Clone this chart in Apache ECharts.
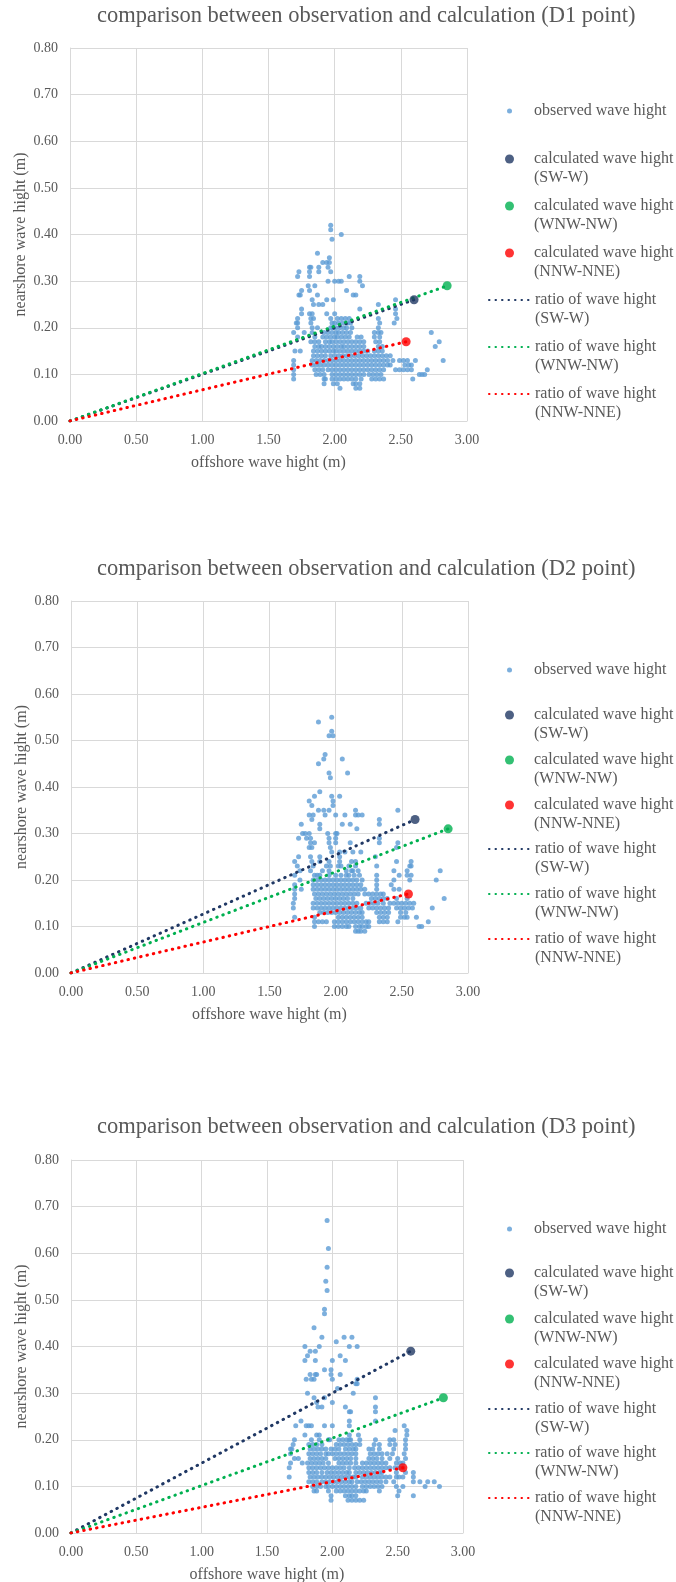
<!DOCTYPE html>
<html>
<head>
<meta charset="utf-8">
<script src="https://cdn.jsdelivr.net/npm/echarts@6/dist/echarts.min.js"></script>
<style>
  html, body { margin: 0; padding: 0; background: #ffffff; }
  #chart { width: 676px; height: 1582px; }
</style>
</head>
<body>
<div id="chart"></div>
<script>
// ---------------- data ----------------
const stations = ['D1', 'D2', 'D3'];

// calculated wave heights [offshore, nearshore] per station (D1, D2, D3)
const calcSW  = [[2.60, 0.26], [2.60, 0.33], [2.60, 0.39]];
const calcWNW = [[2.85, 0.29], [2.85, 0.31], [2.85, 0.29]];
const calcNNW = [[2.54, 0.17], [2.55, 0.17], [2.54, 0.14]];

// observed wave heights, one row per nearshore value: [nearshore, [offshore values]]
const obsD1 = [
  [0.42, [1.97]], [0.41, [1.97]], [0.40, [2.05]], [0.39, [1.98]],
  [0.36, [1.87]], [0.35, [1.96]], [0.34, [1.91, 1.94, 1.96]],
  [0.33, [1.81, 1.82, 1.88, 1.95]], [0.32, [1.73, 1.81, 1.88, 1.97]],
  [0.31, [1.72, 1.81, 2.11, 2.19]], [0.30, [1.95, 2.00, 2.03, 2.05, 2.19]],
  [0.29, [1.80, 1.85, 2.21]], [0.28, [1.75, 1.81, 2.09]],
  [0.27, [1.73, 1.74, 1.87, 2.14, 2.16]], [0.26, [1.83, 1.94, 1.99, 2.46]],
  [0.25, [1.84, 1.88, 1.91, 2.33]], [0.24, [1.75, 2.19, 2.46]],
  [0.23, [1.75, 1.81, 1.83, 1.94, 2.00, 2.46]],
  [0.22, [1.72, 1.82, 1.84, 1.97, 2.02, 2.05, 2.08, 2.11, 2.33, 2.47]],
  [0.21, [1.71, 1.72, 1.82, 1.98, 2.00, 2.03, 2.06, 2.10, 2.12, 2.34, 2.45]],
  [0.20, [1.72, 1.83, 1.87, 1.97, 1.99, 2.01, 2.04, 2.07, 2.09, 2.13, 2.33]],
  [0.19, [1.69, 1.77, 1.83, 1.92, 1.95, 1.98, 2.01, 2.03, 2.06, 2.09, 2.12, 2.30, 2.33, 2.35, 2.73]],
  [0.18, [1.72, 1.85, 1.91, 1.94, 1.97, 2.00, 2.02, 2.05, 2.08, 2.11, 2.17, 2.20, 2.30, 2.34]],
  [0.17, [1.82, 1.85, 1.88, 1.93, 1.96, 1.98, 2.01, 2.04, 2.07, 2.10, 2.13, 2.16, 2.19, 2.22, 2.31, 2.34, 2.79]],
  [0.16, [1.85, 1.88, 1.90, 1.93, 1.96, 1.99, 2.02, 2.05, 2.07, 2.10, 2.13, 2.16, 2.19, 2.22, 2.33, 2.36, 2.76]],
  [0.15, [1.70, 1.74, 1.84, 1.87, 1.90, 1.93, 1.96, 1.99, 2.01, 2.04, 2.07, 2.10, 2.13, 2.16, 2.19, 2.22, 2.25, 2.30, 2.33, 2.36]],
  [0.14, [1.84, 1.87, 1.90, 1.93, 1.97, 2.00, 2.03, 2.06, 2.09, 2.12, 2.15, 2.18, 2.21, 2.24, 2.27, 2.30, 2.33, 2.36, 2.39, 2.42]],
  [0.13, [1.69, 1.83, 1.86, 1.89, 1.92, 1.95, 1.98, 2.01, 2.04, 2.07, 2.10, 2.13, 2.16, 2.19, 2.22, 2.25, 2.28, 2.31, 2.34, 2.37, 2.40, 2.44, 2.49, 2.52, 2.55, 2.61, 2.82]],
  [0.12, [1.69, 1.83, 1.86, 1.89, 1.92, 1.95, 1.98, 2.01, 2.04, 2.07, 2.10, 2.13, 2.16, 2.19, 2.22, 2.25, 2.28, 2.31, 2.34, 2.37, 2.40, 2.42, 2.53, 2.56, 2.58]],
  [0.11, [1.69, 1.85, 1.88, 1.91, 1.95, 1.98, 2.01, 2.04, 2.07, 2.10, 2.13, 2.16, 2.19, 2.22, 2.25, 2.28, 2.31, 2.34, 2.37, 2.46, 2.49, 2.52, 2.55, 2.58, 2.70]],
  [0.10, [1.69, 1.86, 1.89, 1.92, 1.98, 2.01, 2.04, 2.07, 2.10, 2.13, 2.16, 2.19, 2.22, 2.26, 2.29, 2.32, 2.35, 2.64, 2.66, 2.68]],
  [0.09, [1.69, 1.92, 1.93, 1.98, 2.01, 2.04, 2.07, 2.10, 2.13, 2.16, 2.20, 2.28, 2.31, 2.34, 2.37, 2.59]],
  [0.08, [1.92, 1.99, 2.02, 2.14, 2.16, 2.19]],
  [0.07, [2.04, 2.16, 2.19]]
];

const obsD2 = [
  [0.55, [1.97]], [0.54, [1.87]], [0.52, [1.97]], [0.51, [1.95, 1.98]],
  [0.47, [1.92]], [0.46, [1.91, 2.05]], [0.45, [1.87]], [0.43, [1.95, 2.09]],
  [0.42, [1.96]], [0.39, [1.88]], [0.38, [1.84, 1.97, 2.03]],
  [0.37, [1.80, 1.98]], [0.36, [1.82, 1.98]],
  [0.35, [1.87, 1.91, 1.95, 2.15, 2.47]],
  [0.34, [1.80, 1.83, 1.92, 2.00, 2.07, 2.15, 2.17, 2.20]],
  [0.33, [1.82, 2.33]], [0.32, [1.74, 1.88, 2.05, 2.11, 2.33]],
  [0.31, [1.88, 2.16]], [0.30, [1.75, 1.77, 1.80, 1.94, 2.00, 2.01]],
  [0.29, [1.72, 1.78, 1.81, 1.95, 2.00, 2.33]],
  [0.28, [1.81, 1.84, 1.95, 2.00, 2.11, 2.33, 2.47]],
  [0.27, [1.80, 1.82, 1.96, 2.46]], [0.26, [1.97, 2.03, 2.07, 2.13, 2.19]],
  [0.25, [1.72, 1.81, 1.88, 2.03, 2.30]],
  [0.24, [1.69, 1.82, 1.88, 1.95, 2.03, 2.12, 2.15, 2.46, 2.57]],
  [0.23, [1.71, 1.83, 1.93, 1.96, 2.02, 2.04, 2.10, 2.15, 2.31, 2.56, 2.57]],
  [0.22, [1.73, 1.81, 1.90, 1.95, 2.08, 2.12, 2.13, 2.17, 2.44, 2.54, 2.79]],
  [0.21, [1.69, 1.84, 1.86, 1.88, 1.95, 2.00, 2.04, 2.08, 2.10, 2.14, 2.18, 2.31, 2.48, 2.54, 2.57]],
  [0.20, [1.73, 1.83, 1.86, 1.89, 1.92, 1.95, 1.98, 2.01, 2.04, 2.07, 2.10, 2.13, 2.16, 2.20, 2.31, 2.44, 2.56, 2.76]],
  [0.19, [1.69, 1.83, 1.86, 1.89, 1.92, 1.95, 1.98, 2.01, 2.04, 2.07, 2.10, 2.13, 2.16, 2.19, 2.31, 2.42]],
  [0.18, [1.69, 1.74, 1.83, 1.86, 1.89, 1.92, 1.95, 1.98, 2.01, 2.04, 2.07, 2.10, 2.13, 2.16, 2.19, 2.22, 2.31, 2.44, 2.48]],
  [0.17, [1.69, 1.84, 1.87, 1.90, 1.93, 1.96, 1.99, 2.02, 2.05, 2.08, 2.11, 2.14, 2.17, 2.22, 2.25, 2.28, 2.31, 2.34, 2.36]],
  [0.16, [1.69, 1.85, 1.88, 1.91, 1.94, 1.97, 2.00, 2.03, 2.06, 2.09, 2.13, 2.27, 2.30, 2.33, 2.36, 2.39, 2.46, 2.54, 2.82]],
  [0.15, [1.68, 1.83, 1.86, 1.89, 1.92, 1.95, 1.98, 2.01, 2.04, 2.07, 2.10, 2.13, 2.16, 2.23, 2.26, 2.29, 2.32, 2.36, 2.41, 2.44, 2.47, 2.50, 2.53, 2.56, 2.59]],
  [0.14, [1.68, 1.83, 1.86, 1.89, 1.92, 1.95, 1.98, 2.01, 2.04, 2.07, 2.10, 2.13, 2.16, 2.19, 2.25, 2.28, 2.31, 2.34, 2.37, 2.40, 2.46, 2.49, 2.52, 2.55, 2.58, 2.73]],
  [0.13, [1.88, 1.91, 1.94, 1.97, 2.00, 2.03, 2.06, 2.09, 2.12, 2.15, 2.18, 2.20, 2.31, 2.34, 2.37, 2.40, 2.49, 2.53]],
  [0.12, [1.69, 1.84, 2.02, 2.05, 2.08, 2.11, 2.14, 2.17, 2.20, 2.33, 2.36, 2.39, 2.49, 2.52, 2.54, 2.61]],
  [0.11, [1.84, 1.87, 1.90, 1.93, 1.99, 2.02, 2.05, 2.08, 2.11, 2.14, 2.17, 2.20, 2.23, 2.25, 2.33, 2.36, 2.39, 2.47, 2.70]],
  [0.10, [1.84, 1.99, 2.02, 2.05, 2.08, 2.10, 2.15, 2.18, 2.20, 2.23, 2.25, 2.63, 2.65]],
  [0.09, [2.15, 2.17, 2.19, 2.22]]
];

const obsD3 = [
  [0.67, [1.96]], [0.61, [1.97]], [0.57, [1.96]], [0.54, [1.95]], [0.52, [1.96]],
  [0.48, [1.94]], [0.47, [1.94]], [0.44, [1.86]], [0.42, [1.92, 2.09, 2.15]],
  [0.41, [2.03]], [0.40, [1.79, 1.90, 2.13, 2.19]], [0.39, [1.83, 1.87]],
  [0.38, [1.81, 2.06]], [0.37, [1.79, 1.87, 2.00, 2.10]], [0.35, [1.94, 1.99]],
  [0.34, [1.83, 1.87, 1.88, 1.99, 2.06]], [0.33, [1.80, 1.84, 1.86, 2.00, 2.19]],
  [0.32, [2.18, 2.19]], [0.31, [2.04]], [0.30, [1.81, 2.16]],
  [0.29, [1.86, 1.94, 2.33]], [0.28, [1.88, 2.00]],
  [0.27, [1.89, 1.92, 2.10, 2.33]], [0.26, [2.13, 2.14, 2.33]],
  [0.24, [1.76, 2.13, 2.33]], [0.23, [1.72, 1.80, 1.82, 1.84, 1.94, 2.00, 2.13, 2.55]],
  [0.22, [2.48, 2.57]], [0.21, [1.79, 1.88, 1.90, 2.13, 2.20, 2.57]],
  [0.20, [1.71, 1.84, 1.90, 1.97, 1.98, 2.05, 2.08, 2.11, 2.13, 2.14, 2.21, 2.33, 2.44, 2.47, 2.56]],
  [0.19, [1.70, 1.82, 1.85, 1.88, 1.92, 2.03, 2.06, 2.09, 2.12, 2.15, 2.18, 2.21, 2.32, 2.36, 2.44, 2.48, 2.56]],
  [0.18, [1.68, 1.69, 1.83, 1.86, 1.89, 1.92, 1.95, 1.99, 2.02, 2.05, 2.10, 2.13, 2.16, 2.18, 2.28, 2.31, 2.36, 2.47, 2.56]],
  [0.17, [1.68, 1.82, 1.85, 1.88, 1.91, 1.95, 1.97, 2.00, 2.03, 2.06, 2.09, 2.12, 2.15, 2.18, 2.29, 2.32, 2.35, 2.38, 2.42, 2.46, 2.55]],
  [0.16, [1.71, 1.74, 1.83, 1.86, 1.89, 1.92, 1.95, 2.02, 2.05, 2.08, 2.11, 2.14, 2.18, 2.28, 2.31, 2.34, 2.38, 2.44, 2.50, 2.56]],
  [0.15, [1.68, 1.77, 1.81, 1.84, 1.87, 1.90, 1.93, 1.97, 2.05, 2.08, 2.11, 2.14, 2.18, 2.23, 2.26, 2.29, 2.32, 2.35, 2.38, 2.41, 2.49, 2.52, 2.54]],
  [0.14, [1.67, 1.82, 1.85, 1.88, 1.91, 1.94, 1.97, 2.00, 2.03, 2.06, 2.09, 2.13, 2.17, 2.20, 2.23, 2.26, 2.29, 2.32, 2.35, 2.38, 2.41, 2.44, 2.48, 2.51, 2.54]],
  [0.13, [1.82, 1.85, 1.88, 1.92, 1.96, 1.99, 2.02, 2.05, 2.08, 2.11, 2.13, 2.18, 2.21, 2.24, 2.27, 2.30, 2.33, 2.36, 2.38, 2.49, 2.56, 2.62]],
  [0.12, [1.67, 1.83, 1.86, 1.89, 1.92, 1.95, 1.98, 2.01, 2.04, 2.07, 2.10, 2.13, 2.16, 2.18, 2.23, 2.26, 2.29, 2.32, 2.35, 2.38, 2.41, 2.44, 2.49, 2.51, 2.54, 2.62]],
  [0.11, [1.82, 1.85, 1.88, 1.92, 1.95, 1.98, 2.01, 2.04, 2.07, 2.10, 2.13, 2.15, 2.19, 2.22, 2.25, 2.28, 2.31, 2.34, 2.37, 2.41, 2.47, 2.62, 2.67, 2.73, 2.78]],
  [0.10, [1.85, 1.88, 1.91, 1.95, 1.97, 2.00, 2.03, 2.06, 2.09, 2.12, 2.15, 2.18, 2.23, 2.26, 2.29, 2.32, 2.35, 2.38, 2.49, 2.54, 2.71, 2.82]],
  [0.09, [1.86, 1.88, 1.97, 2.03, 2.06, 2.09, 2.12, 2.15, 2.18, 2.21, 2.24, 2.26, 2.36, 2.51]],
  [0.08, [1.99, 2.10, 2.13, 2.15, 2.18, 2.50, 2.62]],
  [0.07, [1.99, 2.12, 2.15, 2.18, 2.21, 2.24]]
];

const observed = [obsD1, obsD2, obsD3];

const seriesNames = [
  'observed wave hight',
  'calculated wave hight (SW-W)',
  'calculated wave hight (WNW-NW)',
  'calculated wave hight (NNW-NNE)',
  'ratio of wave hight (SW-W)',
  'ratio of wave hight (WNW-NW)',
  'ratio of wave hight (NNW-NNE)'
];

// ---------------- styling & layout ----------------
const SERIF = "'Liberation Serif', 'Times New Roman', serif";
const TEXT = '#595959';
const GRIDLINE = '#D9D9D9';
const C_OBS = '#5B9BD5', C_SW = '#203864', C_WNW = '#00B050', C_NNW = '#FF0000';

const panels = [
  { titleTop: 5,    grid: { left: 70, top: 48,   width: 397, height: 373 }, legendY: [111, 159, 206, 253, 300, 347, 394] },
  { titleTop: 558,  grid: { left: 71, top: 601,  width: 397, height: 372 }, legendY: [670, 715, 760, 805, 849, 894, 939] },
  { titleTop: 1116, grid: { left: 71, top: 1160, width: 392, height: 373 }, legendY: [1229, 1273, 1319, 1364, 1409, 1453, 1498] }
];

const toRows = rows => rows.flatMap(([y, xs]) => xs.map(x => [x, y]));
const dotted = color => ({ color: color, width: 3, type: [0.5, 6], cap: 'round' });

const option = {
  animation: false,
  backgroundColor: '#ffffff',
  title: [], grid: [], xAxis: [], yAxis: [], legend: [], series: []
};

panels.forEach((p, i) => {
  option.title.push({
    text: 'comparison between observation and calculation (' + stations[i] + ' point)',
    left: 97, top: p.titleTop, padding: 0,
    textStyle: { fontFamily: SERIF, fontSize: 22.5, fontWeight: 'normal', color: TEXT }
  });
  option.grid.push(Object.assign({ outerBoundsMode: 'none', containLabel: false }, p.grid));
  option.xAxis.push({
    gridIndex: i, type: 'value', min: 0, max: 3, interval: 0.5,
    name: 'offshore wave hight (m)', nameLocation: 'middle', nameGap: 34, nameMoveOverlap: false,
    nameTextStyle: { fontFamily: SERIF, fontSize: 16, color: TEXT },
    axisLine: { show: true, lineStyle: { color: GRIDLINE, width: 1 } },
    axisTick: { show: false },
    axisLabel: { margin: 12, fontFamily: SERIF, fontSize: 14, color: TEXT, formatter: v => v.toFixed(2) },
    splitLine: { show: true, lineStyle: { color: GRIDLINE, width: 1 } }
  });
  option.yAxis.push({
    gridIndex: i, type: 'value', min: 0, max: 0.8, interval: 0.1,
    name: 'nearshore wave hight (m)', nameLocation: 'middle', nameGap: 41, nameMoveOverlap: false,
    nameTextStyle: { fontFamily: SERIF, fontSize: 16, color: TEXT },
    axisLine: { show: true, lineStyle: { color: GRIDLINE, width: 1 } },
    axisTick: { show: false },
    axisLabel: { margin: 12, fontFamily: SERIF, fontSize: 14, color: TEXT, formatter: v => v.toFixed(2) },
    splitLine: { show: true, lineStyle: { color: GRIDLINE, width: 1 } }
  });

  const axes = { xAxisIndex: i, yAxisIndex: i };
  option.series.push(
    Object.assign({ type: 'scatter', name: seriesNames[0], data: toRows(observed[i]), symbolSize: 5,
      itemStyle: { color: C_OBS }, z: 2 }, axes),
    Object.assign({ type: 'scatter', name: seriesNames[1], data: [calcSW[i]], symbolSize: 9,
      itemStyle: { color: C_SW }, z: 5 }, axes),
    Object.assign({ type: 'scatter', name: seriesNames[2], data: [calcWNW[i]], symbolSize: 9,
      itemStyle: { color: C_WNW }, z: 5 }, axes),
    Object.assign({ type: 'scatter', name: seriesNames[3], data: [calcNNW[i]], symbolSize: 9,
      itemStyle: { color: C_NNW }, z: 5 }, axes),
    Object.assign({ type: 'line', name: seriesNames[4], data: [[0, 0], calcSW[i]], symbol: 'none',
      itemStyle: { color: C_SW }, lineStyle: dotted(C_SW), z: 3 }, axes),
    Object.assign({ type: 'line', name: seriesNames[5], data: [[0, 0], calcWNW[i]], symbol: 'none',
      itemStyle: { color: C_WNW }, lineStyle: dotted(C_WNW), z: 3 }, axes),
    Object.assign({ type: 'line', name: seriesNames[6], data: [[0, 0], calcNNW[i]], symbol: 'none',
      itemStyle: { color: C_NNW }, lineStyle: dotted(C_NNW), z: 3 }, axes)
  );

  // one legend block per entry so every row sits at its own height;
  // two-line entries get an empty leading line so the marker sits beside the first text line
  const TEXT_X = 534;
  seriesNames.forEach((name, k) => {
    const y = p.legendY[k];
    const isLine = k >= 4;
    const w = k === 0 ? 5 : (isLine ? 40 : 9);
    const h = k === 0 ? 5 : (isLine ? 4 : 9);
    const iconCx = isLine ? 508 : 509.5;
    const left = iconCx - w / 2;
    const twoLine = k > 0;
    const leg = {
      data: [name], orient: 'vertical', left: left,
      top: twoLine ? y - 28.5 : y - 9.5,
      padding: 0, itemGap: 0, itemWidth: w, itemHeight: h,
      selectedMode: false,
      formatter: n => twoLine ? '\n' + n.replace(' (', '\n(') : n,
      textStyle: {
        fontFamily: SERIF, fontSize: 16, lineHeight: 19, color: TEXT,
        backgroundColor: 'rgba(255,255,255,0)',
        padding: [0, 0, 0, TEXT_X - (left + w + 5)]
      }
    };
    if (isLine) {
      leg.itemStyle = { opacity: 0 };
    } else {
      leg.icon = 'circle';
    }
    option.legend.push(leg);
  });
});

const chart = echarts.init(document.getElementById('chart'), null, { renderer: 'canvas' });
chart.setOption(option);
</script>
</body>
</html>
